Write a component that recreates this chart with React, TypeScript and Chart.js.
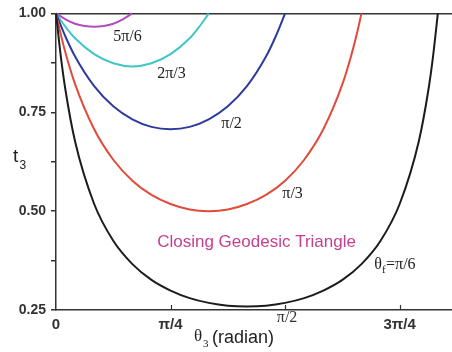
import React, { useEffect, useRef } from "react";
import { Chart, registerables } from "chart.js";

Chart.register(...registerables);

// θ3 (radian) samples and t3 values, one pair per curve (θf)
const thetaPi6 = [0, 0.0327, 0.0654, 0.1309, 0.2618, 0.3927, 0.5236, 0.6545, 0.7854, 0.9163, 1.0472, 1.1781, 1.309, 1.4399, 1.5708, 1.7017, 1.8326, 1.9635, 2.0944, 2.2253, 2.3562, 2.4871, 2.5525, 2.5853, 2.618];
const tPi6 = [1.0, 0.892, 0.805, 0.676, 0.518, 0.425, 0.366, 0.326, 0.299, 0.28, 0.268, 0.261, 0.259, 0.261, 0.268, 0.28, 0.299, 0.326, 0.366, 0.425, 0.518, 0.676, 0.805, 0.892, 1.0];

const thetaPi3 = [0, 0.0327, 0.0654, 0.1309, 0.2618, 0.3927, 0.5236, 0.6545, 0.7854, 0.9163, 1.0472, 1.1781, 1.309, 1.4399, 1.5708, 1.7017, 1.8326, 1.9635, 2.0289, 2.0617, 2.0944];
const tPi3 = [1.0, 0.947, 0.9, 0.821, 0.707, 0.63, 0.577, 0.541, 0.518, 0.504, 0.5, 0.504, 0.518, 0.541, 0.577, 0.63, 0.707, 0.821, 0.9, 0.947, 1.0];

const thetaPi2 = [0, 0.0654, 0.1309, 0.2618, 0.3927, 0.5236, 0.6545, 0.7854, 0.9163, 1.0472, 1.1781, 1.309, 1.4399, 1.5053, 1.5708];
const tPi2 = [1.0, 0.941, 0.891, 0.816, 0.765, 0.732, 0.713, 0.707, 0.713, 0.732, 0.765, 0.816, 0.891, 0.941, 1.0];

const theta2Pi3 = [0, 0.0654, 0.1309, 0.2618, 0.3927, 0.5236, 0.6545, 0.7854, 0.9163, 0.9817, 1.0472];
const t2Pi3 = [1.0, 0.966, 0.937, 0.897, 0.874, 0.866, 0.874, 0.897, 0.937, 0.966, 1.0];

const theta5Pi6 = [0, 0.0654, 0.1309, 0.1963, 0.2618, 0.3272, 0.3927, 0.4581, 0.5236];
const t5Pi6 = [1.0, 0.985, 0.974, 0.968, 0.966, 0.968, 0.974, 0.985, 1.0];

const xTickValues = [0, Math.PI / 4, Math.PI / 2, (3 * Math.PI) / 4];
const xTickLabels = ["0", "π/4", "π/2", "3π/4"];
const yTickValues = [0.25, 0.375, 0.5, 0.625, 0.75, 0.875, 1.0];

const X_MAX = 2.715;

// curve annotations (data coordinates)
const curveLabels = [
  { text: "5π/6", x: 0.49, y: 0.941 },
  { text: "2π/3", x: 0.792, y: 0.847 },
  { text: "π/2", x: 1.204, y: 0.72 },
  { text: "π/3", x: 1.622, y: 0.545 },
];

function pts(xs: number[], ys: number[]) {
  return xs.map((x, i) => ({ x, y: ys[i] }));
}

const annotationPlugin = {
  id: "annot",
  afterDraw(chart: any) {
    const { ctx, scales, chartArea } = chart;
    const xs = scales.x;
    const ys = scales.y;
    ctx.save();
    // upward x tick marks
    ctx.strokeStyle = "#333";
    ctx.lineWidth = 1.2;
    xTickValues.forEach((v) => {
      if (v === 0) return;
      const px = Math.round(xs.getPixelForValue(v)) + 0.5;
      ctx.beginPath();
      ctx.moveTo(px, chartArea.bottom);
      ctx.lineTo(px, chartArea.bottom - 5);
      ctx.stroke();
    });

    // the π/2 tick label sits raised, beside the axis title
    ctx.fillStyle = "#333";
    ctx.textAlign = "center";
    ctx.textBaseline = "middle";
    ctx.font = "16px 'Liberation Serif', serif";
    ctx.fillText(xTickLabels[2], xs.getPixelForValue(xTickValues[2]) + 2, chartArea.bottom + 8);

    ctx.fillStyle = "#222";
    ctx.font = "16px 'Liberation Serif', 'DejaVu Serif', serif";
    curveLabels.forEach((l) => {
      ctx.fillText(l.text, xs.getPixelForValue(l.x), ys.getPixelForValue(l.y));
    });

    // θf=π/6 label
    {
      const cx = xs.getPixelForValue(2.322);
      const cy = ys.getPixelForValue(0.364);
      ctx.textAlign = "left";
      ctx.font = "16px 'Liberation Serif', serif";
      const w1 = ctx.measureText("θ").width;
      const w3 = ctx.measureText("=π/6").width;
      ctx.font = "11px 'Liberation Serif', serif";
      const w2 = ctx.measureText("f").width;
      const x0 = cx - (w1 + w2 + w3) / 2;
      ctx.font = "16px 'Liberation Serif', serif";
      ctx.fillText("θ", x0, cy);
      ctx.font = "11px 'Liberation Serif', serif";
      ctx.fillText("f", x0 + w1, cy + 5);
      ctx.font = "16px 'Liberation Serif', serif";
      ctx.fillText("=π/6", x0 + w1 + w2 + 0.5, cy);
    }

    // Title inside plot
    ctx.textAlign = "center";
    ctx.fillStyle = "#c63f8e";
    ctx.font = "17px 'Liberation Sans', Arial, sans-serif";
    ctx.fillText("Closing Geodesic Triangle", xs.getPixelForValue(1.375), ys.getPixelForValue(0.421));

    // y axis title t3
    ctx.fillStyle = "#222";
    ctx.textAlign = "left";
    ctx.textBaseline = "alphabetic";
    ctx.font = "19px 'Liberation Sans', Arial, sans-serif";
    ctx.fillText("t", 13, 162);
    ctx.font = "12px 'Liberation Sans', Arial, sans-serif";
    ctx.fillText("3", 19.5, 169);

    // x axis title θ3 (radian)
    ctx.font = "17px 'Liberation Serif', serif";
    ctx.fillText("θ", 194, 341);
    ctx.font = "11px 'Liberation Serif', serif";
    ctx.fillText("3", 203, 347);
    ctx.font = "18px 'Liberation Sans', Arial, sans-serif";
    ctx.fillText("(radian)", 212, 343);
    ctx.restore();
  },
};

export default function App() {
  const ref = useRef<HTMLCanvasElement | null>(null);
  useEffect(() => {
    if (!ref.current) return;
    const ds = (label: string, xs: number[], ys: number[], color: string) => ({
      label,
      data: pts(xs, ys),
      borderColor: color,
      backgroundColor: color,
      borderWidth: 2,
      pointRadius: 0,
      cubicInterpolationMode: "monotone" as const,
      fill: false,
      clip: false as any,
    });
    const chart = new Chart(ref.current, {
      type: "line",
      data: {
        datasets: [
          ds("θf=π/6", thetaPi6, tPi6, "#1c1c1c"),
          ds("π/3", thetaPi3, tPi3, "#e04b3a"),
          ds("π/2", thetaPi2, tPi2, "#2e3b9c"),
          ds("2π/3", theta2Pi3, t2Pi3, "#41c6c8"),
          ds("5π/6", theta5Pi6, t5Pi6, "#b14cc0"),
        ],
      },
      options: {
        animation: false,
        responsive: false,
        devicePixelRatio: 1,
        layout: { padding: { top: 7, right: 0, left: 0, bottom: 0 } },
        plugins: { legend: { display: false }, tooltip: { enabled: false } },
        scales: {
          x: {
            type: "linear",
            min: 0,
            max: X_MAX,
            afterBuildTicks: (scale: any) => {
              scale.ticks = xTickValues.map((v) => ({ value: v }));
            },
            afterFit: (scale: any) => {
              scale.height = 42;
            },
            grid: { display: true, drawOnChartArea: false, drawTicks: false, color: "transparent" },
            border: { display: true, color: "#333", width: 1.5 },
            ticks: {
              padding: 6,
              autoSkip: false,
              maxRotation: 0,
              color: "#333",
              font: { family: "'Liberation Sans', Arial, sans-serif", size: 15, weight: "bold" },
              callback: (v: any) => {
                const i = xTickValues.findIndex((t) => Math.abs(t - Number(v)) < 1e-6);
                return i >= 0 && i !== 2 ? xTickLabels[i] : "";
              },
            },
          },
          y: {
            type: "linear",
            min: 0.25,
            max: 1.0,
            afterBuildTicks: (scale: any) => {
              scale.ticks = yTickValues.map((v) => ({ value: v }));
            },
            afterFit: (scale: any) => {
              scale.width = 56;
            },
            grid: {
              color: (c: any) => (c.tick && Math.abs(c.tick.value - 1) < 1e-6 ? "#333" : "transparent"),
              lineWidth: 1.5,
              tickColor: "#333",
              tickLength: 5,
              drawTicks: true,
            },
            border: { display: true, color: "#333", width: 1.5 },
            ticks: {
              padding: 5,
              color: "#333",
              font: { family: "'Liberation Sans', Arial, sans-serif", size: 14, weight: "bold" },
              callback: (v: any) => {
                const n = Number(v);
                return Math.abs(n * 4 - Math.round(n * 4)) < 1e-6 ? n.toFixed(2) : "";
              },
            },
          },
        },
      },
      plugins: [annotationPlugin],
    });
    return () => chart.destroy();
  }, []);
  return (
    <div style={{ position: "absolute", left: 0, top: 0, width: 452, height: 352, background: "#fff" }}>
      <canvas ref={ref} width={452} height={352} style={{ display: "block" }} />
    </div>
  );
}
